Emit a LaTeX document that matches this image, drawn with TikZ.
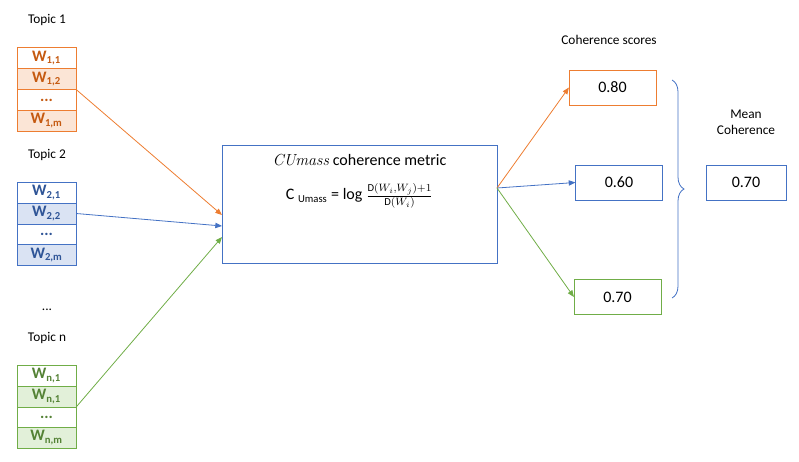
\documentclass[tikz,border=0pt]{standalone}
\usepackage{fontspec}
\setmainfont{Carlito}
\usetikzlibrary{arrows.meta,decorations.pathreplacing}
\definecolor{or}{HTML}{ED7D31}\definecolor{orl}{HTML}{FBE5D6}\definecolor{ord}{HTML}{C55A11}
\definecolor{bl}{HTML}{4472C4}\definecolor{bll}{HTML}{DAE3F3}\definecolor{bld}{HTML}{2F5597}
\definecolor{gr}{HTML}{70AD47}\definecolor{grl}{HTML}{E2F0D9}\definecolor{grd}{HTML}{548235}
\tikzset{cell/.style={draw=#1,minimum width=44.25pt,minimum height=15.5pt,inner sep=0pt,font=\bfseries\large},
 arr/.style={draw=#1,-{Triangle[length=5pt,width=4pt]},line width=0.6pt},
 val/.style={draw=#1,minimum width=65pt,minimum height=26pt,inner sep=0pt,font=\large},
 lab/.style={font=\normalsize}}
\begin{document}
\begin{tikzpicture}[x=0.75pt,y=-0.75pt]
\useasboundingbox (0,0) rectangle (799,461);
% topic 1
\node[lab] (t1) at (47,20) {Topic 1};
\node[cell=or,text=ord] (a1) at (46.5,58) {W\textsubscript{1,1}};
\node[cell=or,fill=orl,text=ord] (a2) at (46.5,79) {W\textsubscript{1,2}};
\node[cell=or,text=ord] (a3) at (46.5,100) {...};
\node[cell=or,fill=orl,text=ord] (a4) at (46.5,120.5) {W\textsubscript{1,m}};
% topic 2
\node[lab] (t2) at (47,155) {Topic 2};
\node[cell=bl,text=bld] (b1) at (46.5,192.5) {W\textsubscript{2,1}};
\node[cell=bl,fill=bll,text=bld] (b2) at (46.5,213.5) {W\textsubscript{2,2}};
\node[cell=bl,text=bld] (b3) at (46.5,234.5) {...};
\node[cell=bl,fill=bll,text=bld] (b4) at (46.5,255) {W\textsubscript{2,m}};
\node[lab] (dots) at (47,310) {...};
% topic n
\node[lab] (tn) at (47,338) {Topic n};
\node[cell=gr,text=grd] (c1) at (46.5,375.5) {W\textsubscript{n,1}};
\node[cell=gr,fill=grl,text=grd] (c2) at (46.5,396.5) {W\textsubscript{n,1}};
\node[cell=gr,text=grd] (c3) at (46.5,417.5) {...};
\node[cell=gr,fill=grl,text=grd] (c4) at (46.5,437.5) {W\textsubscript{n,m}};
% central
\node[draw=bl,minimum width=206pt,minimum height=88.5pt,inner sep=0pt] (m) at (359.5,204) {};
\node[font=\large] (mt) at (359.5,160) {\textit{\fontspec{Latin Modern Roman}CUmass} coherence metric};
\node[font=\large] (mf) at (359.5,196) {C \textsubscript{Umass} = log $\frac{\mathrm{D}(W_i,W_j)+1}{\mathrm{D}(W_i)}$};
% outputs
\node[lab] (cs) at (609,40) {Coherence scores};
\node[val=or] (o1) at (612.5,87.5) {0.80};
\node[val=bl] (o2) at (619,182.5) {0.60};
\node[val=gr] (o3) at (617.5,297) {0.70};
\node[lab,align=center] (mc) at (746,122) {Mean\\Coherence};
\node[val=bl,minimum width=60pt] (mv) at (746,182.5) {0.70};
\draw[bl,line width=0.6pt,decorate,decoration={brace,amplitude=9pt}] (672,80) -- (672,298) coordinate[midway] (bt);
% arrows
\coordinate (ma) at (222,215);\coordinate (mb) at (222,226);\coordinate (mc2) at (222,237);
\draw[arr=or] (a2.south east) -- (ma);
\draw[arr=bl] (b2.east) -- (mb);
\draw[arr=gr] (c3.north east) -- (mc2);
\coordinate (mo) at (497,188);
\draw[arr=or] (mo) -- (o1.west);
\draw[arr=bl] (mo) -- (o2.west);
\draw[arr=gr] (mo) -- (o3.west);
\end{tikzpicture}
\end{document}
